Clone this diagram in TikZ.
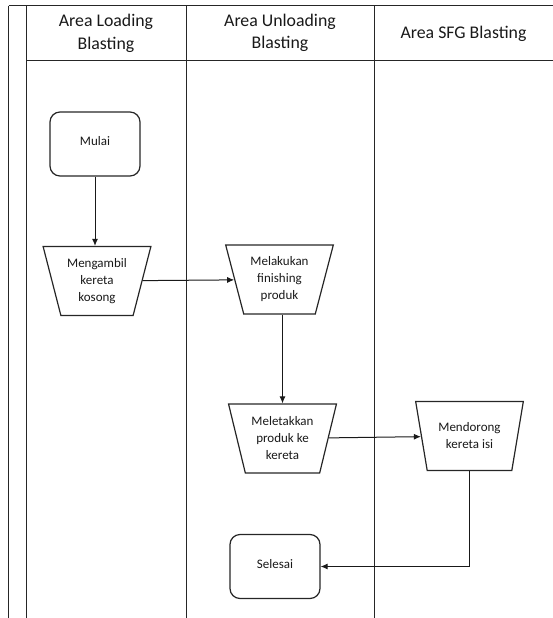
\documentclass[tikz,border=0pt]{standalone}
\usepackage{fontspec}
\setmainfont{Carlito}
\usetikzlibrary{shapes.geometric,arrows.meta}
\begin{document}
\begin{tikzpicture}[x=1pt,y=-1pt,
  lane/.style={draw=black!85, line width=1pt},
  hdr/.style={font=\fontsize{17.8}{22.5}\selectfont, align=center, text=black!90},
  term/.style={draw=black!85, line width=1.2pt, rounded corners=10pt, minimum width=90pt, minimum height=64pt, inner sep=0pt, font=\fontsize{13}{17}\selectfont, align=center, text=black!90},
  proc/.style={draw=black!85, line width=1.2pt, trapezium, shape border rotate=180, trapezium stretches=true, trapezium left angle=72, trapezium right angle=72, minimum width=108pt, minimum height=69pt, inner sep=0pt, font=\fontsize{13}{17}\selectfont, align=center, text=black!90},
  flow/.style={-{Latex[length=7pt,width=6pt]}, line width=1pt, draw=black!90}
]
\useasboundingbox (0,0) rectangle (553,618);
% pool and lanes
\draw[lane] (8.5,6) -- (8.5,618);
\draw[lane] (26.5,6) -- (26.5,618);
\draw[lane] (8.5,6) -- (553,6);
\draw[lane] (26.5,60.7) -- (553,60.7);
\draw[lane] (186,6) -- (186,618);
\draw[lane] (374,6) -- (374,618);
% headers
\node[hdr] (h1) at (106,33.5) {Area Loading\\Blasting};
\node[hdr] (h2) at (280,33) {Area Unloading\\Blasting};
\node[hdr] (h3) at (463.5,33.5) {Area SFG Blasting};
% nodes
\node[term] (mulai) at (95,144) {\raisebox{6pt}{Mulai}};
\node[proc] (mengambil) at (97,281) {Mengambil\\kereta\\kosong};
\node[proc] (melakukan) at (279.5,279.5) {Melakukan\\finishing\\produk};
\node[proc] (meletakkan) at (282.5,438.5) {Meletakkan\\produk ke\\kereta};
\node[proc] (mendorong) at (469.5,436) {Mendorong\\kereta isi};
\node[term] (selesai) at (275,566.5) {\raisebox{6pt}{Selesai}};
% connectors
\draw[flow] (mulai.south) -- (mulai.south |- mengambil.north);
\draw[flow] (mengambil) -- (melakukan);
\draw[flow] (meletakkan.north |- melakukan.south) -- (meletakkan.north);
\draw[flow] (meletakkan) -- (mendorong);
\draw[flow] (mendorong.south) |- (selesai.east);
\end{tikzpicture}
\end{document}
